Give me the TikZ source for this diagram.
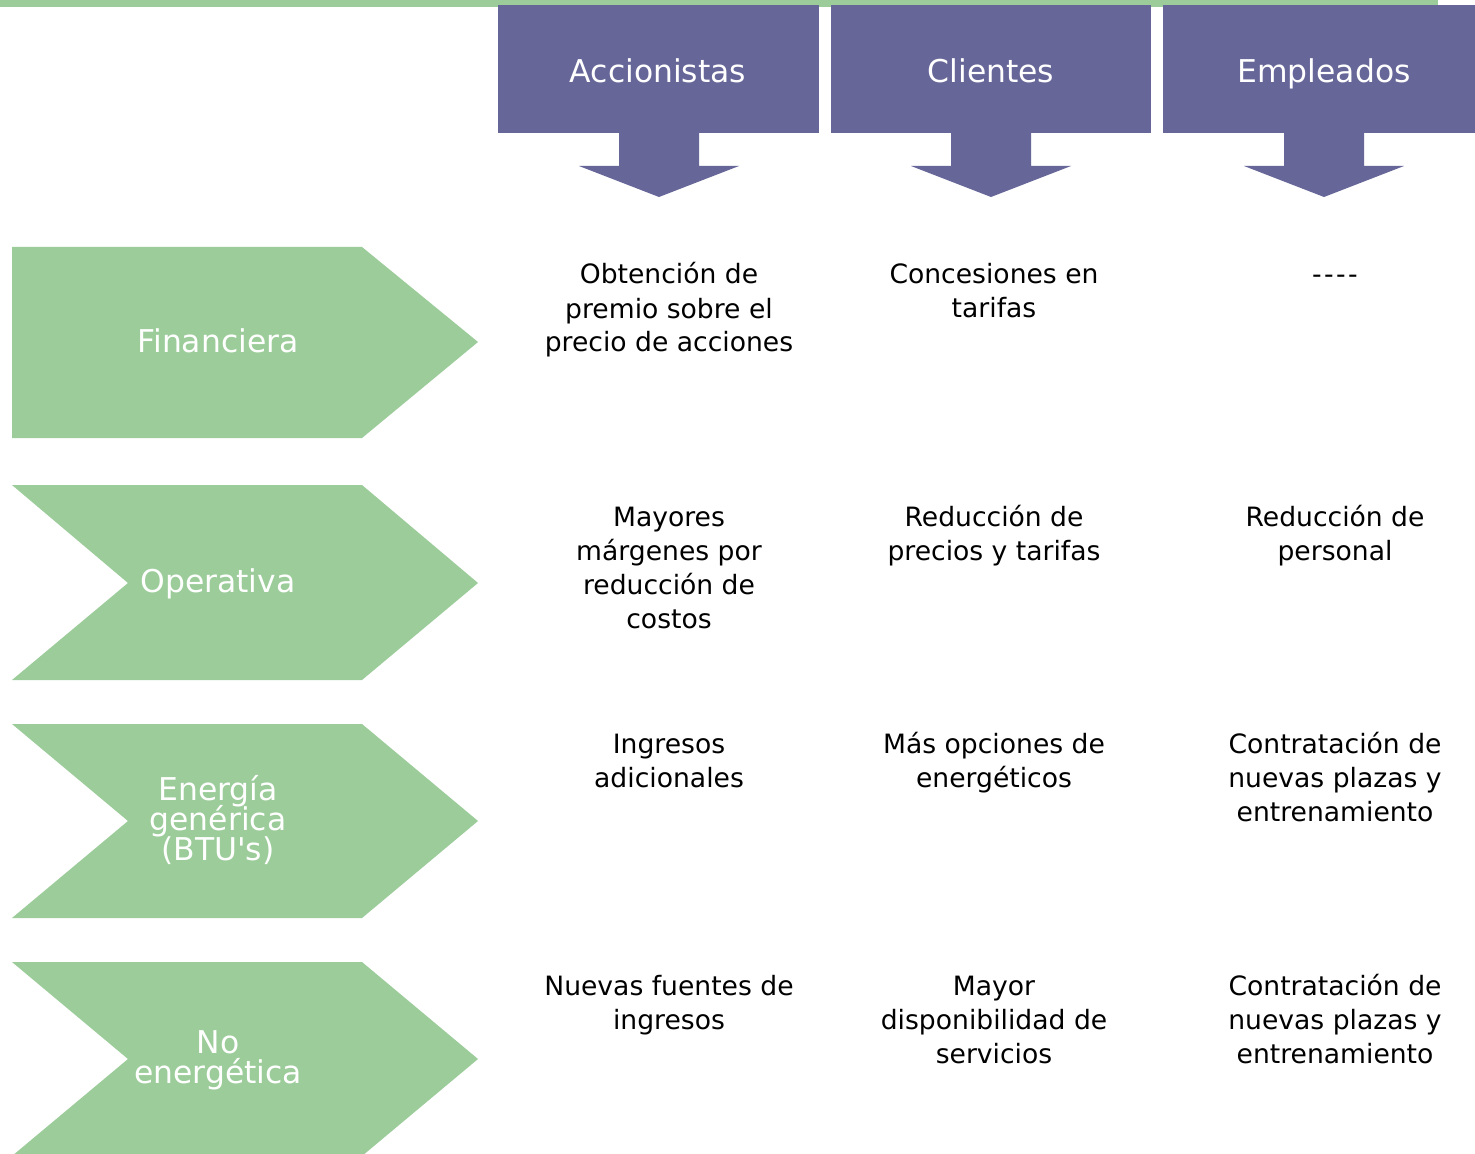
\documentclass[tikz,border=0pt]{standalone}
\usepackage{fontspec}
\setmainfont{DejaVu Sans}
\definecolor{vgreen}{RGB}{155,204,153}
\definecolor{vpurple}{RGB}{102,102,153}
\newcommand\mytightls{\lineskiplimit -20pt\lineskip 0pt\relax}
\begin{document}
\begin{tikzpicture}[x=0.5pt,y=-0.5pt,
  cell/.style={anchor=base,align=center,inner sep=0pt,font=\fontsize{13.3}{17}\selectfont\mytightls,text=black},
  head/.style={anchor=base,align=center,inner sep=0pt,font=\fontsize{15.7}{17}\selectfont,text=white},
  lab/.style={anchor=base,align=center,inner sep=0pt,font=\fontsize{15.7}{15}\selectfont\mytightls,text=white},
  gshape/.style={fill=vgreen,draw=none},
  pshape/.style={fill=vpurple,draw=none}]
\useasboundingbox (0,0) rectangle (1475,1154);
\fill[white] (0,0) rectangle (1475,1154);
% top bar
\fill[vgreen] (0,0) rectangle (1438,7);
% header boxes with down arrows
\foreach \l/\r/\c in {498/819/659, 831/1151/991, 1163/1484/1324}{
  \fill[pshape] (\l,5) rectangle (\r,133);
  \fill[pshape] (\c-40,132) -- (\c+40,132) -- (\c+40,166) -- (\c+80,166) -- (\c,197) -- (\c-80,166) -- (\c-40,166) -- cycle;
}
\node[head] (h1) at (658,83) {Accionistas};
\node[head] (h2) at (991,83) {Clientes};
\node[head] (h3) at (1324,83) {Empleados};
% chevrons
\fill[gshape] (12,247) -- (362,247) -- (478,342) -- (362,438) -- (12,438) -- cycle;
\fill[gshape] (12,485) -- (362,485) -- (478,583) -- (362,680) -- (12,680) -- (128,583) -- cycle;
\fill[gshape] (12,724) -- (362,724) -- (478,821) -- (362,918) -- (12,918) -- (128,821) -- cycle;
\fill[gshape] (12,962) -- (362,962) -- (478,1059) -- (362,1156) -- (12,1156) -- (128,1059) -- cycle;
% labels (anchor = baseline of last line)
\node[lab] (l1) at (218,353) {Financiera};
\node[lab] (l2) at (218,592) {Operativa};
\node[lab] (l3) at (218,860) {Energía\\genérica\\(BTU\textquotesingle s)};
\node[lab] (l4) at (218,1083) {No\\energética};
% cells (anchor = baseline of last line)
\node[cell] (c11) at (669,352) {Obtención de\\premio sobre el\\precio de acciones};
\node[cell] (c12) at (994,318) {Concesiones en\\tarifas};
\node[cell] (c13) at (1335,284) {-\kern1.2pt-\kern1.2pt-\kern1.2pt-};
\node[cell] (c21) at (669,628) {Mayores\\márgenes por\\reducción de\\costos};
\node[cell] (c22) at (994,560) {Reducción de\\precios y tarifas};
\node[cell] (c23) at (1335,560) {Reducción de\\personal};
\node[cell] (c31) at (669,787) {Ingresos\\adicionales};
\node[cell] (c32) at (994,787) {Más opciones de\\energéticos};
\node[cell] (c33) at (1335,821) {Contratación de\\nuevas plazas y\\entrenamiento};
\node[cell] (c41) at (669,1029) {Nuevas fuentes de\\ingresos};
\node[cell] (c42) at (994,1063) {Mayor\\disponibilidad de\\servicios};
\node[cell] (c43) at (1335,1063) {Contratación de\\nuevas plazas y\\entrenamiento};
\end{tikzpicture}
\end{document}
